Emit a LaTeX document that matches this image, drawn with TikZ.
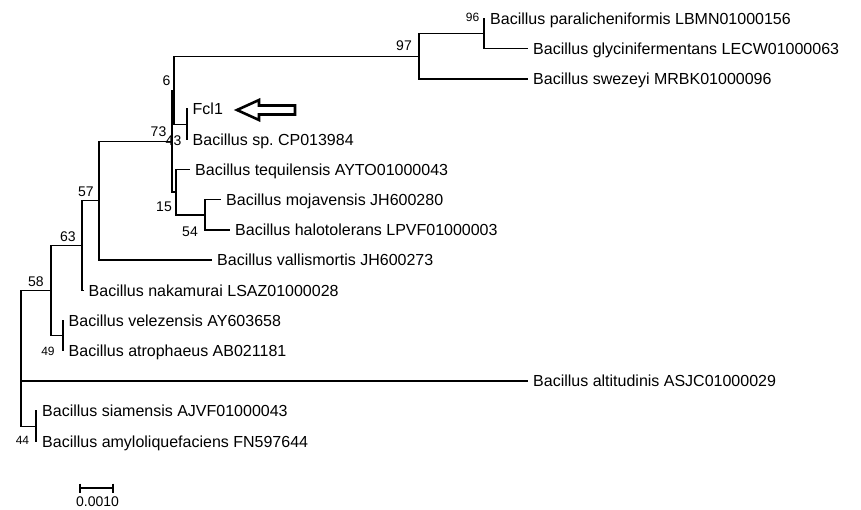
\documentclass[tikz,border=0pt]{standalone}
\usepackage{fontspec}
\setmainfont{Liberation Sans}
\usetikzlibrary{positioning}
\tikzstyle{leaf} = [anchor=west, inner xsep=5pt, inner ysep=0pt,
text height=11.5pt,
text depth=0pt,
font=\fontsize{16}{18}\selectfont\frenchspacing]
\tikzstyle{branch} = [line width=1.4pt]

\begin{document}
\begin{tikzpicture}[x=1pt, y=-1pt,
    boot/.style={inner sep=0pt, font=\fontsize{14}{16}\selectfont},
    bootsmall/.style={inner sep=0pt, font=\fontsize{12}{14}\selectfont},
    marker/.style={line width=2.6pt, fill=white, line join=miter}
]
    \useasboundingbox (0,0) rectangle (861,509);

    \coordinate (root) at (21,380.9);
    \coordinate (n58) at (51,290.5);
    \coordinate (n63) at (82,245.5);
    \coordinate (n57) at (99,200.6);
    \coordinate (n73) at (172,141.2);
    \coordinate (n6) at (174,90.2);
    \coordinate (n97) at (419,56.25);
    \coordinate (n96) at (484,33.6);
    \coordinate (n43) at (187,124.2);
    \coordinate (n15) at (176,192.15);
    \coordinate (n54) at (205,214.8);
    \coordinate (n49) at (63,335.6);
    \coordinate (n44) at (36,426.2);

    \node[leaf] (paralich) at (485,18.5) {Bacillus paralicheniformis LBMN01000156};
    \node[leaf] (glycin) at (528,48.7) {Bacillus glycinifermentans LECW01000063};
    \node[leaf] (swezeyi) at (528,78.9) {Bacillus swezeyi MRBK01000096};
    \node[leaf] (fcl) at (187.5,109.1) {Fcl1};
    \node[leaf] (bsp) at (187.5,139.3) {Bacillus sp. CP013984};
    \node[leaf] (tequil) at (190,169.5) {Bacillus tequilensis AYTO01000043};
    \node[leaf] (mojav) at (221,199.7) {Bacillus mojavensis JH600280};
    \node[leaf] (halot) at (230,229.9) {Bacillus halotolerans LPVF01000003};
    \node[leaf] (vallis) at (212,260.1) {Bacillus vallismortis JH600273};
    \node[leaf] (nakam) at (83.5,290.3) {Bacillus nakamurai LSAZ01000028};
    \node[leaf] (velez) at (63.5,320.5) {Bacillus velezensis AY603658};
    \node[leaf] (atroph) at (63.5,350.7) {Bacillus atrophaeus AB021181};
    \node[leaf] (altit) at (528,380.9) {Bacillus altitudinis ASJC01000029};
    \node[leaf] (siam) at (37,411.1) {Bacillus siamensis AJVF01000043};
    \node[leaf] (amylo) at (37,441.3) {Bacillus amyloliquefaciens FN597644};

    \draw[branch] (root) |- (n58) (root) |- (altit.west) (root) |- (n44);
    \draw[branch] (n58) |- (n63) (n58) |- (n49);
    \draw[branch] (n63) |- (n57) (n63) |- (nakam.west);
    \draw[branch] (n57) |- (n73) (n57) |- (vallis.west);
    \draw[branch] (n73) |- (n6) (n73) |- (n15);
    \draw[branch] (n6) |- (n97) (n6) |- (n43);
    \draw[branch] (n97) |- (n96) (n97) |- (swezeyi.west);
    \draw[branch] (n96) |- (paralich.west) (n96) |- (glycin.west);
    \draw[branch] (n43) |- (fcl.west) (n43) |- (bsp.west);
    \draw[branch] (n15) |- (tequil.west) (n15) |- (n54);
    \draw[branch] (n54) |- (mojav.west) (n54) |- (halot.west);
    \draw[branch] (n49) |- (velez.west) (n49) |- (atroph.west);
    \draw[branch] (n44) |- (siam.west) (n44) |- (amylo.west);

    \node[bootsmall] (b96) at (472.5,17.5) {96};
    \node[boot] (b97) at (404,46) {97};
    \node[boot] (b6) at (166.5,80.5) {6};
    \node[boot] (b73) at (158.5,132) {73};
    \node[boot] (b43) at (173.5,140.5) {43};
    \node[boot] (b15) at (164,207) {15};
    \node[boot] (b54) at (190,232) {54};
    \node[boot] (b57) at (86,192) {57};
    \node[boot] (b63) at (68,237) {63};
    \node[boot] (b58) at (36,282) {58};
    \node[bootsmall] (b49) at (48,351) {49};
    \node[bootsmall] (b44) at (22.5,440.5) {44};

    \draw[marker] (237,110) -- (259,100) -- (259,105.5) -- (295,105.5)
        -- (295,114.5) -- (259,114.5) -- (259,120) -- cycle;

    \draw[line width=1.1pt] (80,483.5) -- (80,492.5) (80,488) -- (113,488)
        (113,483.5) -- (113,492.5);
    \node[boot] (scale) at (97.5,502) {0.0010};
\end{tikzpicture}
\end{document}
